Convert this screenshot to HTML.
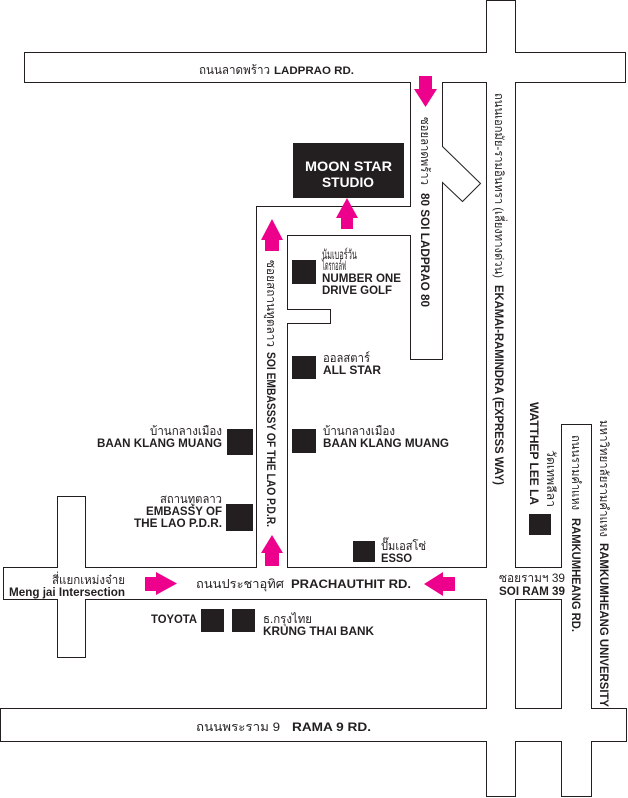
<!DOCTYPE html>
<html><head><meta charset="utf-8"><style>
html,body{margin:0;padding:0;background:#fff;}
svg{display:block;}
text{font-family:"Liberation Sans","DejaVu Sans","Noto Sans CJK SC",sans-serif;fill:#231f20;}
.e{font-weight:bold;font-size:12px;}
.t{font-size:12px;}
</style></head><body>
<svg width="628" height="798" viewBox="0 0 628 798" xmlns="http://www.w3.org/2000/svg">
<rect width="628" height="798" fill="#fff"/>
<g fill="none" stroke="#231f20" stroke-width="1">
<path d="M486.5,52.5 H24.5 V82.5 H410.5 V206.5 H256.5 V567.5 H85.5 V496.5 H57.5 V567.5 H3.5 V599.5 H57.5 V657.5 H85.5 V599.5 H486.5 V708.5 H0.5 V741.5 H486.5 V796.5 H515.5 V741.5 H561.5 V796.5 H591.5 V741.5 H626.5 V708.5 H591.5 V424.5 H561.5 V567.5 H515.5 V82.5 H625.5 V52.5 H515.5 V0.5 H486.5 Z"/>
<path d="M287.5,235.5 H410.5 V359.5 H442.5 V182.5 L462.5,201.5 L480.5,183.5 L442.5,146.5 V82.5 H486.5 V567.5 H287.5 V323.5 H330.5 V309.5 H287.5 Z"/>
<rect x="515.5" y="599.5" width="46" height="109"/>
</g>
<g fill="#231f20">
<rect x="293" y="143" width="111" height="55"/>
<rect x="292" y="260" width="24" height="24"/>
<rect x="292" y="356" width="24" height="23"/>
<rect x="292" y="429" width="24" height="24"/>
<rect x="227" y="429" width="26" height="26"/>
<rect x="226" y="504" width="27" height="27"/>
<rect x="353" y="541" width="22" height="21"/>
<rect x="201" y="609" width="23" height="23"/>
<rect x="232" y="609" width="23" height="23"/>
<rect x="529" y="514" width="22" height="21"/>
</g>
<g fill="#ec008c">
<polygon points="419,76 432,76 432,89 437,89 425.5,107 414,89 419,89"/>
<polygon points="347,198 358,218 353,218 353,229 341,229 341,218 336,218"/>
<polygon points="272,219 283,240 279,240 279,251 265,251 265,240 261,240"/>
<polygon points="272,535 283,553 279,553 279,566 265,566 265,553 261,553"/>
<polygon points="145,577 156,577 156,572 177,583.5 156,595 156,591 145,591"/>
<polygon points="424,584 443,572 443,577 455,577 455,591 443,591 443,596"/>
</g>
<!-- horizontal labels -->
<text class="t" x="199" y="74" textLength="71" lengthAdjust="spacingAndGlyphs">ถนนลาดพร้าว</text>
<text class="e" x="274" y="74" style="font-size:11px" textLength="80" lengthAdjust="spacingAndGlyphs">LADPRAO RD.</text>
<text class="e" x="305" y="171" style="font-size:14px;fill:#fff" textLength="87" lengthAdjust="spacingAndGlyphs">MOON STAR</text>
<text class="e" x="322" y="187" style="font-size:14px;fill:#fff" textLength="52" lengthAdjust="spacingAndGlyphs">STUDIO</text>
<text class="t" x="322" y="259" style="font-size:13px" textLength="35" lengthAdjust="spacingAndGlyphs">นัมเบอร์วัน</text>
<text class="t" x="322" y="270" style="font-size:13px" textLength="24" lengthAdjust="spacingAndGlyphs">ไดรกอล์ฟ</text>
<text class="e" x="322" y="282" textLength="79" lengthAdjust="spacingAndGlyphs">NUMBER ONE</text>
<text class="e" x="322" y="294" textLength="70" lengthAdjust="spacingAndGlyphs">DRIVE GOLF</text>
<text class="t" x="323" y="362" textLength="47" lengthAdjust="spacingAndGlyphs">ออลสตาร์</text>
<text class="e" x="323" y="374" textLength="58" lengthAdjust="spacingAndGlyphs">ALL STAR</text>
<text class="t" x="323" y="435" textLength="72" lengthAdjust="spacingAndGlyphs">บ้านกลางเมือง</text>
<text class="e" x="323" y="447" textLength="126" lengthAdjust="spacingAndGlyphs">BAAN KLANG MUANG</text>
<text class="t" x="150" y="435" textLength="72" lengthAdjust="spacingAndGlyphs">บ้านกลางเมือง</text>
<text class="e" x="97" y="447" textLength="125" lengthAdjust="spacingAndGlyphs">BAAN KLANG MUANG</text>
<text class="t" x="160" y="503" textLength="62" lengthAdjust="spacingAndGlyphs">สถานทูตลาว</text>
<text class="e" x="146" y="515" textLength="76" lengthAdjust="spacingAndGlyphs">EMBASSY OF</text>
<text class="e" x="134" y="527" textLength="88" lengthAdjust="spacingAndGlyphs">THE LAO P.D.R.</text>
<text class="t" x="381" y="550" textLength="45" lengthAdjust="spacingAndGlyphs">ปั๊มเอสโซ่</text>
<text class="e" x="381" y="562" textLength="31" lengthAdjust="spacingAndGlyphs">ESSO</text>
<text class="t" x="52" y="584" textLength="73" lengthAdjust="spacingAndGlyphs">สี่แยกเหม่งจ๋าย</text>
<text class="e" x="9" y="596" textLength="116" lengthAdjust="spacingAndGlyphs">Meng jai Intersection</text>
<text class="t" x="196" y="588" textLength="88" lengthAdjust="spacingAndGlyphs">ถนนประชาอุทิศ</text>
<text class="e" x="291" y="588" textLength="120" lengthAdjust="spacingAndGlyphs">PRACHAUTHIT RD.</text>
<text class="t" x="499" y="582" textLength="66" lengthAdjust="spacingAndGlyphs">ซอยรามฯ 39</text>
<text class="e" x="499" y="595" textLength="66" lengthAdjust="spacingAndGlyphs">SOI RAM 39</text>
<text class="e" x="151" y="623" textLength="46" lengthAdjust="spacingAndGlyphs">TOYOTA</text>
<text class="t" x="263" y="623" textLength="49" lengthAdjust="spacingAndGlyphs">ธ.กรุงไทย</text>
<text class="e" x="263" y="635" textLength="111" lengthAdjust="spacingAndGlyphs">KRUNG THAI BANK</text>
<text class="t" x="196" y="731" textLength="84" lengthAdjust="spacingAndGlyphs">ถนนพระราม 9</text>
<text class="e" x="292" y="731" textLength="79" lengthAdjust="spacingAndGlyphs">RAMA 9 RD.</text>
<!-- vertical labels -->
<text class="t" transform="translate(421,117) rotate(90)" textLength="68" lengthAdjust="spacingAndGlyphs">ซอยลาดพร้าว</text>
<text class="e" transform="translate(421,193) rotate(90)" textLength="114" lengthAdjust="spacingAndGlyphs">80 SOI LADPRAO 80</text>
<text class="t" transform="translate(267,260) rotate(90)" textLength="87" lengthAdjust="spacingAndGlyphs">ซอยสถานทูตลาว</text>
<text class="e" transform="translate(267,352) rotate(90)" textLength="175" lengthAdjust="spacingAndGlyphs">SOI EMBASSSY OF THE LAO P.D.R.</text>
<text class="t" transform="translate(495,93) rotate(90)" textLength="185" lengthAdjust="spacingAndGlyphs">ถนนเอกมัย-รามอินทรา (เลี่ยงทางด่วน)</text>
<text class="e" transform="translate(495,285) rotate(90)" textLength="200" lengthAdjust="spacingAndGlyphs">EKAMAI-RAMINDRA (EXPRESS WAY)</text>
<text class="e" transform="translate(530,402) rotate(90)" textLength="103" lengthAdjust="spacingAndGlyphs">WATTHEP LEE LA</text>
<text class="t" transform="translate(547,450) rotate(90)" textLength="57" lengthAdjust="spacingAndGlyphs">วัดเทพลีลา</text>
<text class="t" transform="translate(572,435) rotate(90)" textLength="75" lengthAdjust="spacingAndGlyphs">ถนนรามคำแหง</text>
<text class="e" transform="translate(572,518) rotate(90)" textLength="114" lengthAdjust="spacingAndGlyphs">RAMKUMHEANG RD.</text>
<text class="t" transform="translate(600,420) rotate(90)" textLength="117" lengthAdjust="spacingAndGlyphs">มหาวิทยาลัยรามคำแหง</text>
<text class="e" transform="translate(600,543) rotate(90)" textLength="164" lengthAdjust="spacingAndGlyphs">RAMKUMHEANG UNIVERSITY</text>
</svg>
</body></html>
